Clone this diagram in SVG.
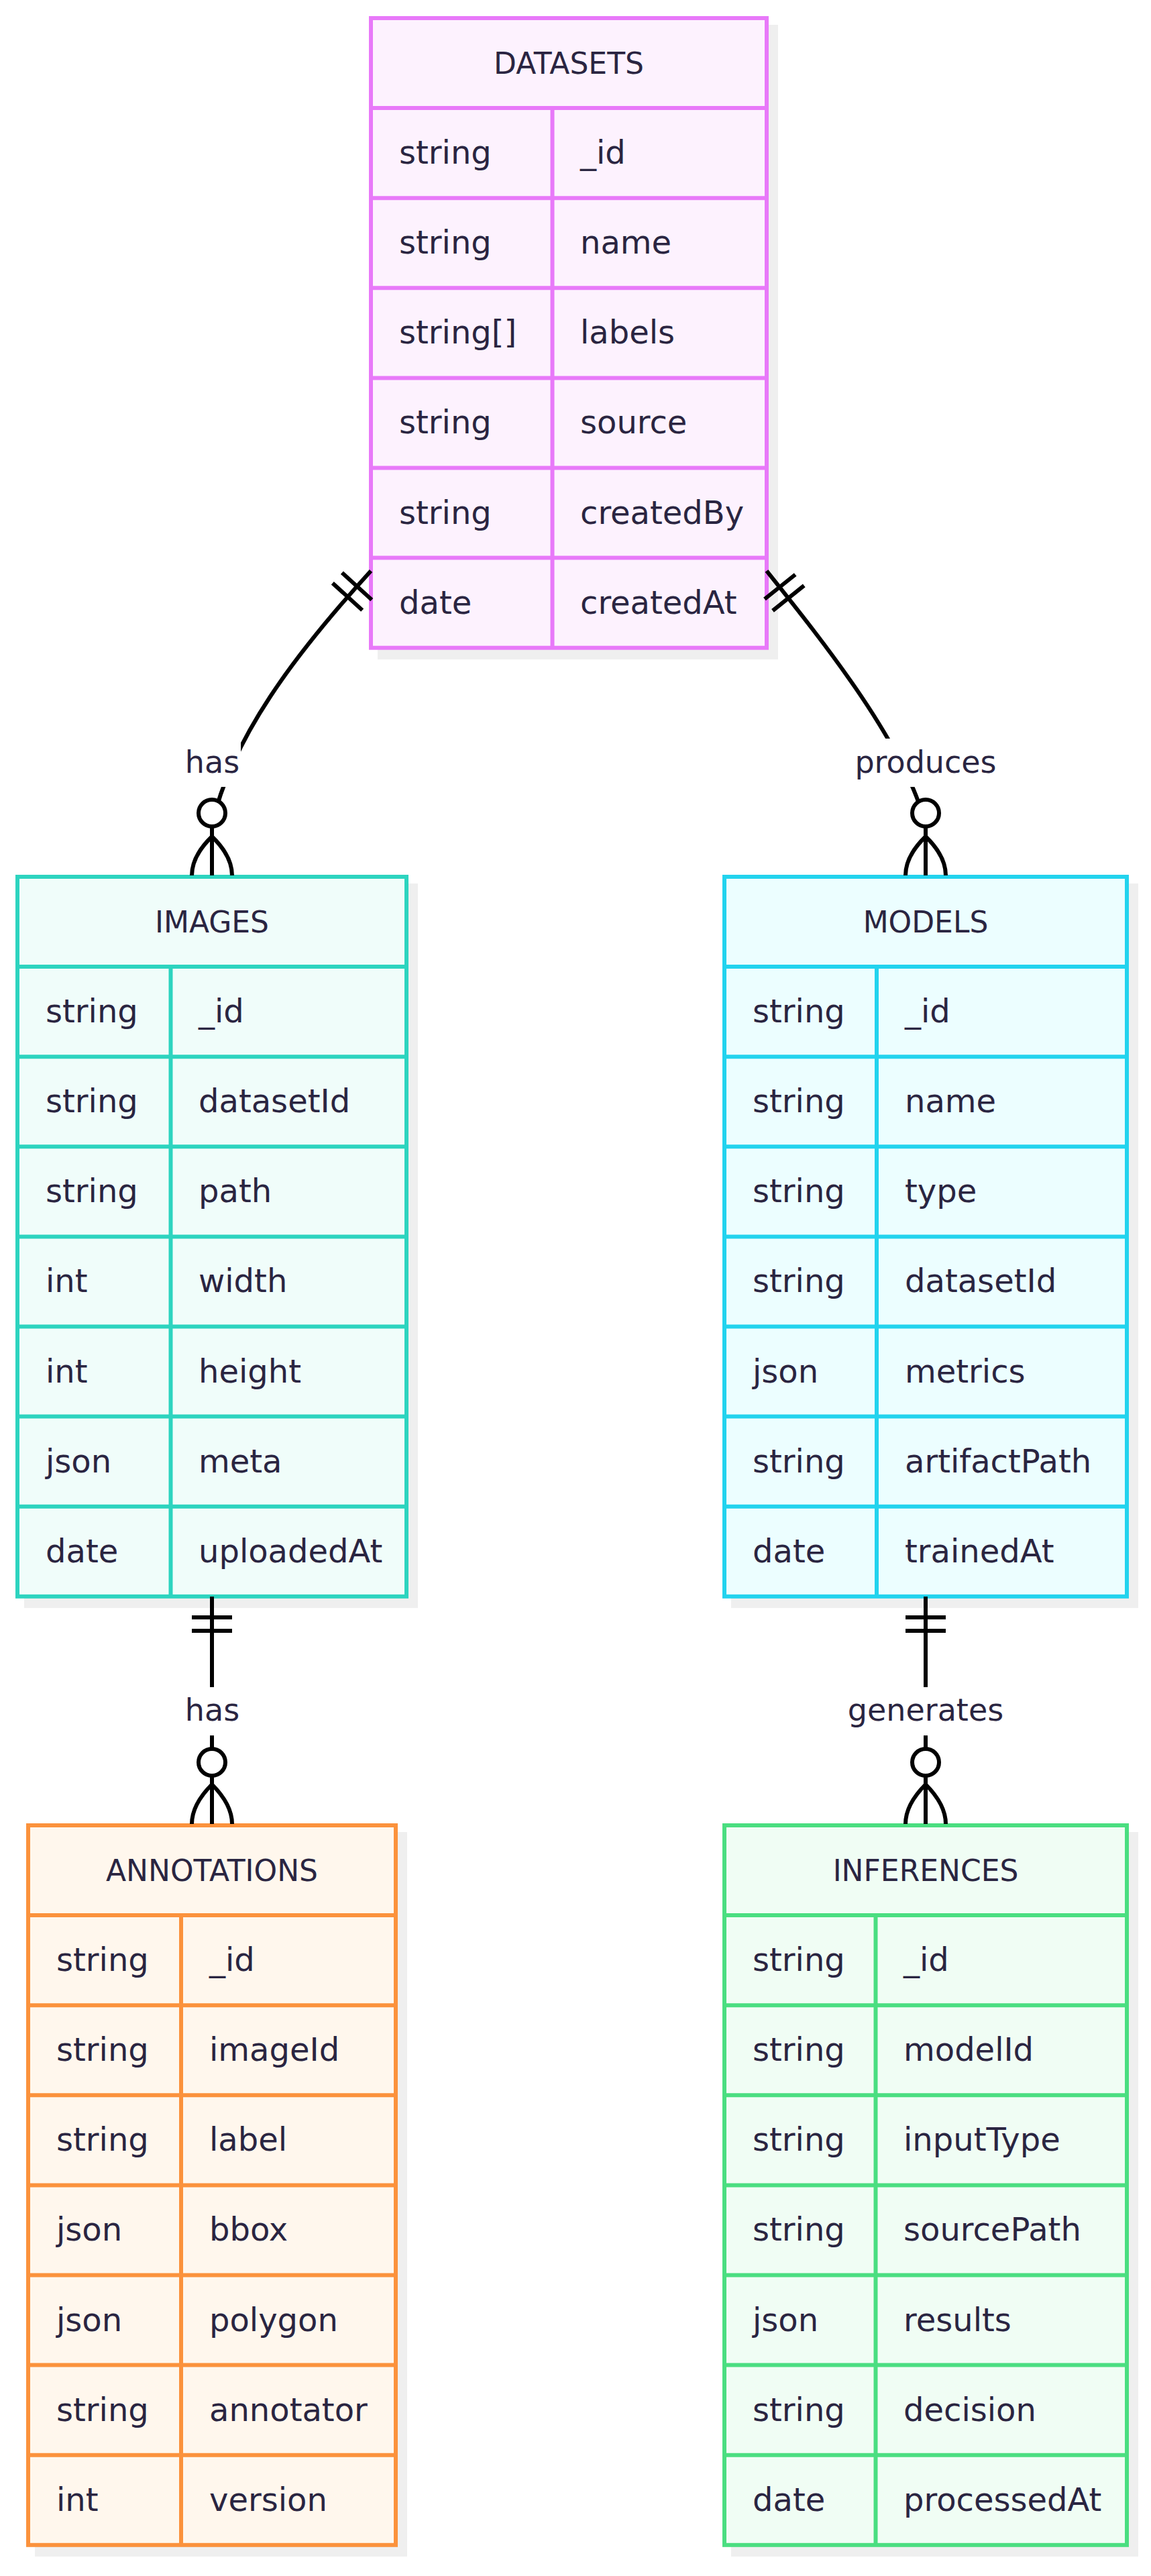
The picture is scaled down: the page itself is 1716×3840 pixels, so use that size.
<svg xmlns="http://www.w3.org/2000/svg" width="1716" height="3840" viewBox="0 0 1716 3840">
<style>
text{font-family:"DejaVu Sans","Liberation Sans",sans-serif;font-size:48px;fill:#2a2541}
.title{text-anchor:middle;font-size:44px}
.lbl{text-anchor:middle;font-size:46px}
.shadow{fill:#efefef;stroke:none}
.body,.grid{stroke-width:6}
.grid{fill:none}
.ds .body{fill:#fdf2fe}.ds .body,.ds .grid{stroke:#e879f9}
.im .body{fill:#f0fdfa}.im .body,.im .grid{stroke:#2dd4bf}
.md .body{fill:#ecfeff}.md .body,.md .grid{stroke:#22d3ee}
.an .body{fill:#fff7ed}.an .body,.an .grid{stroke:#fb923c}
.inf .body{fill:#f0fdf4}.inf .body,.inf .grid{stroke:#4ade80}
.edge{fill:none;stroke:#000;stroke-width:6}
.zero{fill:#fff;stroke:#000;stroke-width:6}
.lblbg{fill:#fff;stroke:none}
</style>

<g id="DATASETS" class="ds">
<rect class="shadow" x="563" y="37" width="597" height="946"/>
<rect class="body" x="553" y="27" width="590" height="938.7"/>
<path class="grid" d="M553,161.1H1143M553,295.2H1143M553,429.3H1143M553,563.4H1143M553,697.5H1143M553,831.6H1143M823.5,161.1V965.7"/>
<text class="title" x="848" y="110">DATASETS</text>
<text x="595" y="244">string</text><text x="865" y="244">_id</text>
<text x="595" y="378">string</text><text x="865" y="378">name</text>
<text x="595" y="512">string[]</text><text x="865" y="512">labels</text>
<text x="595" y="646">string</text><text x="865" y="646">source</text>
<text x="595" y="781">string</text><text x="865" y="781">createdBy</text>
<text x="595" y="915">date</text><text x="865" y="915">createdAt</text>
</g>

<g id="IMAGES" class="im">
<rect class="shadow" x="36" y="1317" width="587" height="1080"/>
<rect class="body" x="26" y="1307" width="580" height="1072.8"/>
<path class="grid" d="M26,1441.1H606M26,1575.2H606M26,1709.3H606M26,1843.4H606M26,1977.5H606M26,2111.6H606M26,2245.7H606M254.5,1441.1V2379.8"/>
<text class="title" x="316" y="1390">IMAGES</text>
<text x="68" y="1524">string</text><text x="296" y="1524">_id</text>
<text x="68" y="1658">string</text><text x="296" y="1658">datasetId</text>
<text x="68" y="1792">string</text><text x="296" y="1792">path</text>
<text x="68" y="1926">int</text><text x="296" y="1926">width</text>
<text x="68" y="2061">int</text><text x="296" y="2061">height</text>
<text x="68" y="2195">json</text><text x="296" y="2195">meta</text>
<text x="68" y="2329">date</text><text x="296" y="2329">uploadedAt</text>
</g>

<g id="MODELS" class="md">
<rect class="shadow" x="1090" y="1317" width="607" height="1080"/>
<rect class="body" x="1080" y="1307" width="600" height="1072.8"/>
<path class="grid" d="M1080,1441.1H1680M1080,1575.2H1680M1080,1709.3H1680M1080,1843.4H1680M1080,1977.5H1680M1080,2111.6H1680M1080,2245.7H1680M1307,1441.1V2379.8"/>
<text class="title" x="1380" y="1390">MODELS</text>
<text x="1122" y="1524">string</text><text x="1349" y="1524">_id</text>
<text x="1122" y="1658">string</text><text x="1349" y="1658">name</text>
<text x="1122" y="1792">string</text><text x="1349" y="1792">type</text>
<text x="1122" y="1926">string</text><text x="1349" y="1926">datasetId</text>
<text x="1122" y="2061">json</text><text x="1349" y="2061">metrics</text>
<text x="1122" y="2195">string</text><text x="1349" y="2195">artifactPath</text>
<text x="1122" y="2329">date</text><text x="1349" y="2329">trainedAt</text>
</g>

<g id="ANNOTATIONS" class="an">
<rect class="shadow" x="52" y="2731" width="555" height="1080"/>
<rect class="body" x="42" y="2721" width="548" height="1072.8"/>
<path class="grid" d="M42,2855.1H590M42,2989.2H590M42,3123.3H590M42,3257.4H590M42,3391.5H590M42,3525.6H590M42,3659.7H590M270,2855.1V3793.8"/>
<text class="title" x="316" y="2804">ANNOTATIONS</text>
<text x="84" y="2938">string</text><text x="312" y="2938">_id</text>
<text x="84" y="3072">string</text><text x="312" y="3072">imageId</text>
<text x="84" y="3206">string</text><text x="312" y="3206">label</text>
<text x="84" y="3340">json</text><text x="312" y="3340">bbox</text>
<text x="84" y="3475">json</text><text x="312" y="3475">polygon</text>
<text x="84" y="3609">string</text><text x="312" y="3609">annotator</text>
<text x="84" y="3743">int</text><text x="312" y="3743">version</text>
</g>

<g id="INFERENCES" class="inf">
<rect class="shadow" x="1090" y="2731" width="607" height="1080"/>
<rect class="body" x="1080" y="2721" width="600" height="1072.8"/>
<path class="grid" d="M1080,2855.1H1680M1080,2989.2H1680M1080,3123.3H1680M1080,3257.4H1680M1080,3391.5H1680M1080,3525.6H1680M1080,3659.7H1680M1305.5,2855.1V3793.8"/>
<text class="title" x="1380" y="2804">INFERENCES</text>
<text x="1122" y="2938">string</text><text x="1347" y="2938">_id</text>
<text x="1122" y="3072">string</text><text x="1347" y="3072">modelId</text>
<text x="1122" y="3206">string</text><text x="1347" y="3206">inputType</text>
<text x="1122" y="3340">string</text><text x="1347" y="3340">sourcePath</text>
<text x="1122" y="3475">json</text><text x="1347" y="3475">results</text>
<text x="1122" y="3609">string</text><text x="1347" y="3609">decision</text>
<text x="1122" y="3743">date</text><text x="1347" y="3743">processedAt</text>
</g>

<g id="connectors">
<g id="e-datasets-images">
<path class="edge" d="M553,851C440,975 345,1100 316,1230L316,1305"/>
<path class="edge" d="M509.9,853.7L554.3,894.1M495.8,869.2L540.2,909.6"/>
<rect class="lblbg" x="274" y="1101" width="85" height="72"/>
<text class="lbl" x="316.5" y="1152">has</text>
<circle class="zero" cx="316" cy="1212" r="20"/>
<path class="edge" d="M316,1247Q286,1276 286,1305M316,1247Q346,1276 346,1305"/>
</g>
<g id="e-datasets-models">
<path class="edge" d="M1143,851C1230,960 1350,1110 1380,1230L1380,1305"/>
<path class="edge" d="M1185.7,856.5L1140,893M1198.8,872.9L1152,910.3"/>
<rect class="lblbg" x="1274" y="1101" width="212" height="72"/>
<text class="lbl" x="1380" y="1152">produces</text>
<circle class="zero" cx="1380" cy="1212" r="20"/>
<path class="edge" d="M1380,1247Q1350,1276 1350,1305M1380,1247Q1410,1276 1410,1305"/>
</g>
<g id="e-images-annotations">
<path class="edge" d="M316,2380L316,2719"/>
<path class="edge" d="M286,2411H346M286,2431H346"/>
<rect class="lblbg" x="274" y="2515" width="85" height="72"/>
<text class="lbl" x="316.5" y="2565">has</text>
<circle class="zero" cx="316" cy="2627" r="20"/>
<path class="edge" d="M316,2660Q286,2690 286,2719M316,2660Q346,2690 346,2719"/>
</g>
<g id="e-models-inferences">
<path class="edge" d="M1380,2380L1380,2719"/>
<path class="edge" d="M1350,2411H1410M1350,2431H1410"/>
<rect class="lblbg" x="1256" y="2515" width="248" height="72"/>
<text class="lbl" x="1380" y="2565">generates</text>
<circle class="zero" cx="1380" cy="2627" r="20"/>
<path class="edge" d="M1380,2660Q1350,2690 1350,2719M1380,2660Q1410,2690 1410,2719"/>
</g>
</g>
</svg>
